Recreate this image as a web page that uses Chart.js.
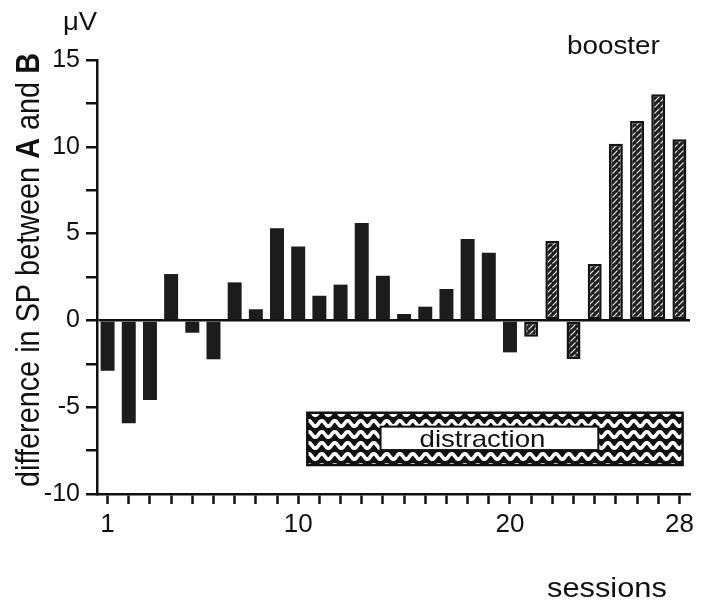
<!DOCTYPE html>
<html>
<head>
<meta charset="utf-8">
<script src="https://cdn.jsdelivr.net/npm/chart.js@4"></script>
<style>
  html, body { margin: 0; padding: 0; background: #fff; }
  canvas { display: block; }
</style>
</head>
<body>
<canvas id="chart" width="706" height="606"></canvas>
<script>
// Sessions on the x axis
const sessions = ['1','2','3','4','5','6','7','8','9','10','11','12','13','14',
                  '15','16','17','18','19','20','21','22','23','24','25','26','27','28'];
// Sessions that carry a tick label
const labelledSessions = ['1', '10', '20', '28'];

// SP difference between A and B (µV), sessions 1-20 (solid bars)
const solidValues = [-2.9, -5.93, -4.59, 2.67, -0.71, -2.24, 2.19, 0.64, 5.31, 4.25,
                     1.42, 2.06, 5.61, 2.57, 0.37, 0.79, 1.81, 4.69, 3.9, -1.84,
                     null, null, null, null, null, null, null, null];
// SP difference between A and B (µV), sessions 21-28 (hatched bars)
const hatchedValues = [null, null, null, null, null, null, null, null, null, null,
                       null, null, null, null, null, null, null, null, null, null,
                       -0.94, 4.57, -2.22, 3.25, 10.18, 11.49, 13.02, 10.43];

// Y axis range and tick step (µV)
const yRange = [-10, 15];
const yStep = 2.5;

// Distraction period: session span and the inner label band (µV)
const distractionSessions = [10.43, 28.15];
const distractionValues = [-5.32, -8.33];
const distractionLabelSessions = [13.89, 24.17];
const distractionLabelValues = [-6.12, -7.47];

const INK = '#111111';
const FONT = '"Liberation Sans", Arial, Helvetica, sans-serif';

// Diagonal hatch used for sessions 21-28
function makeHatch() {
  const c = document.createElement('canvas');
  c.width = 6; c.height = 6;
  const g = c.getContext('2d');
  g.fillStyle = '#1e1e1e';
  g.fillRect(0, 0, 6, 6);
  g.strokeStyle = '#dcdcdc';
  g.lineWidth = 1.1;
  g.beginPath();
  g.moveTo(0.5, 5.5); g.lineTo(5.5, 0.5);
  g.stroke();
  return g.createPattern(c, 'repeat');
}

// Wavy fill for the distraction bar
function makeWaves() {
  const c = document.createElement('canvas');
  c.width = 13; c.height = 11;
  const g = c.getContext('2d');
  g.fillStyle = '#111111';
  g.fillRect(0, 0, 13, 11);
  g.strokeStyle = '#ffffff';
  g.lineWidth = 3.6;
  g.beginPath();
  for (let x = -1; x <= 14; x += 0.5) {
    const y = 5.5 + 2.8 * Math.sin(2 * Math.PI * x / 13);
    if (x === -1) g.moveTo(x, y); else g.lineTo(x, y);
  }
  g.stroke();
  return g.createPattern(c, 'repeat');
}

const hatch = makeHatch();
const waves = makeWaves();

function drawScaledText(ctx, text, x, y, size, sx, align) {
  ctx.save();
  ctx.font = size + 'px ' + FONT;
  ctx.fillStyle = INK;
  ctx.textBaseline = 'alphabetic';
  const w = ctx.measureText(text).width * sx;
  let left = x;
  if (align === 'center') left = x - w / 2;
  ctx.translate(left, y);
  ctx.scale(sx, 1);
  ctx.textAlign = 'left';
  ctx.fillText(text, 0, 0);
  ctx.restore();
}

const decorations = {
  id: 'decorations',
  afterDraw(chart) {
    const ctx = chart.ctx;
    const xs = chart.scales.x, ys = chart.scales.y;

    // distraction bar
    const x0 = xs.getPixelForValue(distractionSessions[0] - 1);
    const x1 = xs.getPixelForValue(distractionSessions[1] - 1);
    const y0 = ys.getPixelForValue(distractionValues[0]);
    const y1 = ys.getPixelForValue(distractionValues[1]);
    ctx.save();
    ctx.fillStyle = waves;
    ctx.fillRect(x0, y0, x1 - x0, y1 - y0);
    ctx.lineWidth = 2.5;
    ctx.strokeStyle = INK;
    ctx.strokeRect(x0, y0, x1 - x0, y1 - y0);
    const ix0 = xs.getPixelForValue(distractionLabelSessions[0] - 1);
    const ix1 = xs.getPixelForValue(distractionLabelSessions[1] - 1);
    const iy0 = ys.getPixelForValue(distractionLabelValues[0]);
    const iy1 = ys.getPixelForValue(distractionLabelValues[1]);
    ctx.fillStyle = '#fff';
    ctx.fillRect(ix0, iy0, ix1 - ix0, iy1 - iy0);
    ctx.lineWidth = 2;
    ctx.strokeRect(ix0, iy0, ix1 - ix0, iy1 - iy0);
    ctx.restore();
    drawScaledText(ctx, 'distraction', (ix0 + ix1) / 2 - 7, iy1 - 3, 24, 1.15, 'center');

    // unit, phase label and x title
    drawScaledText(ctx, 'μV', 63, 30, 25, 1.1, 'left');
    drawScaledText(ctx, 'booster', 567, 54, 26, 1.07, 'left');
    drawScaledText(ctx, 'sessions', 547, 597, 28, 1.1, 'left');

    // y title, with bold A and B
    const parts = [
      ['difference in SP between ', 'normal'],
      ['A', 'bold'],
      [' and ', 'normal'],
      ['B', 'bold']
    ];
    ctx.save();
    ctx.fillStyle = INK;
    ctx.textBaseline = 'alphabetic';
    ctx.textAlign = 'left';
    let total = 0;
    const widths = parts.map(([t, w]) => {
      ctx.font = w + ' 28px ' + FONT;
      const m = ctx.measureText(t).width * 1.03;
      total += m;
      return m;
    });
    ctx.translate(39, 270);
    ctx.rotate(-Math.PI / 2);
    ctx.scale(1.03, 1.2);
    let cx = -total / 2 / 1.03;
    parts.forEach(([t, w], i) => {
      ctx.font = w + ' 28px ' + FONT;
      ctx.fillText(t, cx, 0);
      cx += widths[i] / 1.03;
    });
    ctx.restore();
  }
};

new Chart(document.getElementById('chart'), {
  type: 'bar',
  data: {
    labels: sessions,
    datasets: [
      {
        data: solidValues,
        backgroundColor: '#1c1c1c',
        borderWidth: 0,
        grouped: false,
        barPercentage: 0.66,
        categoryPercentage: 1
      },
      {
        data: hatchedValues,
        backgroundColor: hatch,
        borderColor: '#141414',
        borderWidth: 2.5,
        borderSkipped: false,
        grouped: false,
        barPercentage: 0.66,
        categoryPercentage: 1
      }
    ]
  },
  options: {
    responsive: false,
    animation: false,
    devicePixelRatio: 1,
    layout: { padding: { top: 60, right: 16, left: 0, bottom: 0 } },
    plugins: { legend: { display: false }, tooltip: { enabled: false } },
    scales: {
      x: {
        type: 'category',
        offset: true,
        afterFit(scale) { scale.height = 112; },
        border: { display: true, color: INK, width: 2.5 },
        grid: {
          offset: false,
          drawOnChartArea: false,
          drawTicks: true,
          tickLength: 10,
          tickWidth: 2.5,
          tickColor: INK
        },
        ticks: {
          autoSkip: false,
          maxRotation: 0,
          minRotation: 0,
          padding: 5,
          color: INK,
          font: { family: FONT, size: 26 },
          callback(value, index) {
            const s = sessions[index];
            return labelledSessions.includes(s) ? s : '';
          }
        }
      },
      y: {
        min: yRange[0],
        max: yRange[1],
        afterFit(scale) { scale.width = 97; },
        border: { display: true, color: INK, width: 2.5 },
        grid: {
          drawOnChartArea: true,
          drawTicks: true,
          tickLength: 11,
          tickWidth: 2.5,
          tickColor: INK,
          lineWidth: 2.5,
          color(ctx) {
            return ctx.tick && ctx.tick.value === 0 ? INK : 'rgba(0,0,0,0)';
          }
        },
        ticks: {
          stepSize: yStep,
          padding: 6,
          color: INK,
          font: { family: FONT, size: 25 },
          callback(value) {
            return value % 5 === 0 ? String(value) : '';
          }
        }
      }
    }
  },
  plugins: [decorations]
});
</script>
</body>
</html>
